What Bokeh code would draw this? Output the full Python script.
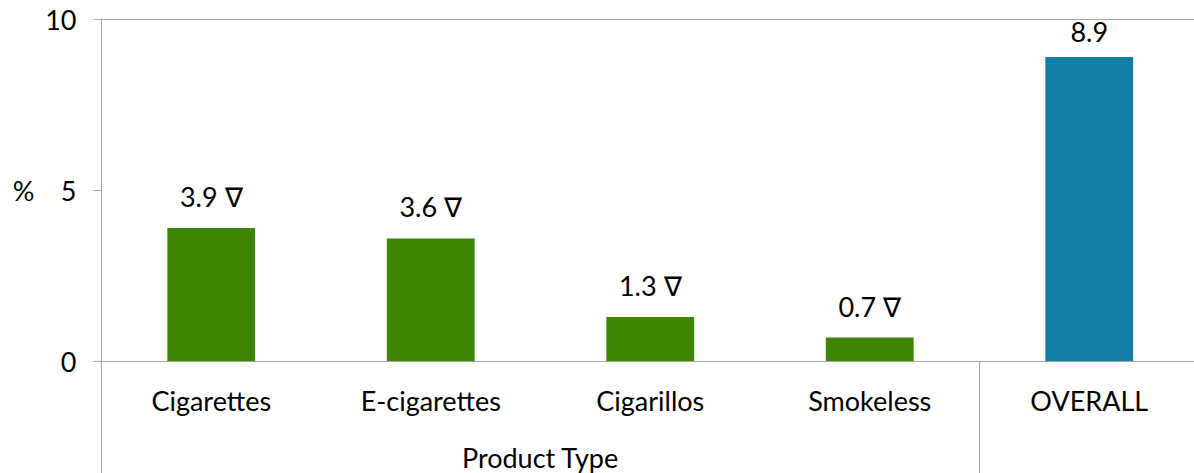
from bokeh.plotting import figure
from bokeh.layouts import row
from bokeh.models import Span, FixedTicker, Range1d, ColumnDataSource
from bokeh.core.properties import value
from bokeh.embed import file_html
from bokeh.resources import INLINE

categories = ["Cigarettes", "E-cigarettes", "Cigarillos", "Smokeless", "OVERALL"]
values = [3.9, 3.6, 1.3, 0.7, 8.9]
value_labels = ["3.9 \u2207", "3.6 \u2207", "1.3 \u2207", "0.7 \u2207", "8.9"]
bar_colors = ["#3E8504", "#3E8504", "#3E8504", "#3E8504", "#137FA8"]
y_ticks = [0, 5, 10]
group_label = "Product Type"
y_label = "%"

FONT = "Lato"
FS = "27px"
GRAY = "#A6A6A6"

W, H = 1194, 473
LW = 40                      # width of the narrow side panel holding the "%" label
left, top = 101, 18
slot = 219.5
y0_px = 361
ppu = (y0_px - 19) / 10.0
y_end = 10 + (19 - top) / ppu
y_start = -(H - y0_px) / ppu
x_start = -0.5
x_end = x_start + (W - left) / slot

xs = list(range(len(categories)))

# side panel with the "%" axis title (same vertical scale as the main chart)
side = figure(width=LW, height=H, output_backend="svg", toolbar_location=None,
              x_range=Range1d(0, LW), y_range=Range1d(y_start, y_end),
              x_axis_location=None, y_axis_location=None,
              min_border_left=0, min_border_right=0, min_border_top=top, min_border_bottom=0)
side.outline_line_color = None
side.grid.visible = False
side.text(x=[23], y=[5], text=[y_label], text_align="center", text_baseline="middle",
          text_font=value(FONT), text_font_size=FS, text_color="#000000")

p = figure(width=W - LW, height=H, output_backend="svg", toolbar_location=None,
           x_range=Range1d(x_start, x_end), y_range=Range1d(y_start, y_end),
           x_axis_location=None, min_border_left=left - LW, min_border_right=0,
           min_border_top=top, min_border_bottom=0)
p.outline_line_color = None
p.grid.visible = False
p.background_fill_color = "white"
p.border_fill_color = "white"

ax = p.yaxis[0]
ax.ticker = FixedTicker(ticks=y_ticks)
ax.major_tick_out = 8
ax.major_tick_in = 0
ax.minor_tick_line_color = None
ax.axis_line_color = GRAY
ax.major_tick_line_color = GRAY
ax.major_label_text_font = FONT
ax.major_label_text_font_size = FS
ax.major_label_text_color = "#000000"
ax.major_label_standoff = 17

p.add_layout(Span(location=0, dimension="width", line_color=GRAY, line_width=1))
p.add_layout(Span(location=10, dimension="width", line_color=GRAY, line_width=1))

src = ColumnDataSource(dict(x=xs, top=values, color=bar_colors, lab=value_labels, cat=categories))
p.vbar(x="x", top="top", width=0.4, bottom=0, fill_color="color", line_color=None, source=src)
p.text(x="x", y="top", text="lab", source=src, text_align="center", text_baseline="bottom",
       y_offset=-15, text_font=value(FONT), text_font_size=FS, text_color="#000000")

cat_y = -(400 - y0_px) / ppu
p.text(x="x", y=cat_y, text="cat", source=src, text_align="center", text_baseline="middle",
       text_font=value(FONT), text_font_size=FS, text_color="#000000")

p.segment(x0=[3.5], y0=[0], x1=[3.5], y1=[y_start], line_color=GRAY, line_width=1)

grp_y = -(457 - y0_px) / ppu
p.text(x=[1.5], y=[grp_y], text=[group_label], text_align="center", text_baseline="middle",
       text_font=value(FONT), text_font_size=FS, text_color="#000000")

layout = row(side, p)
open("out.html", "w").write(file_html(layout, INLINE))
